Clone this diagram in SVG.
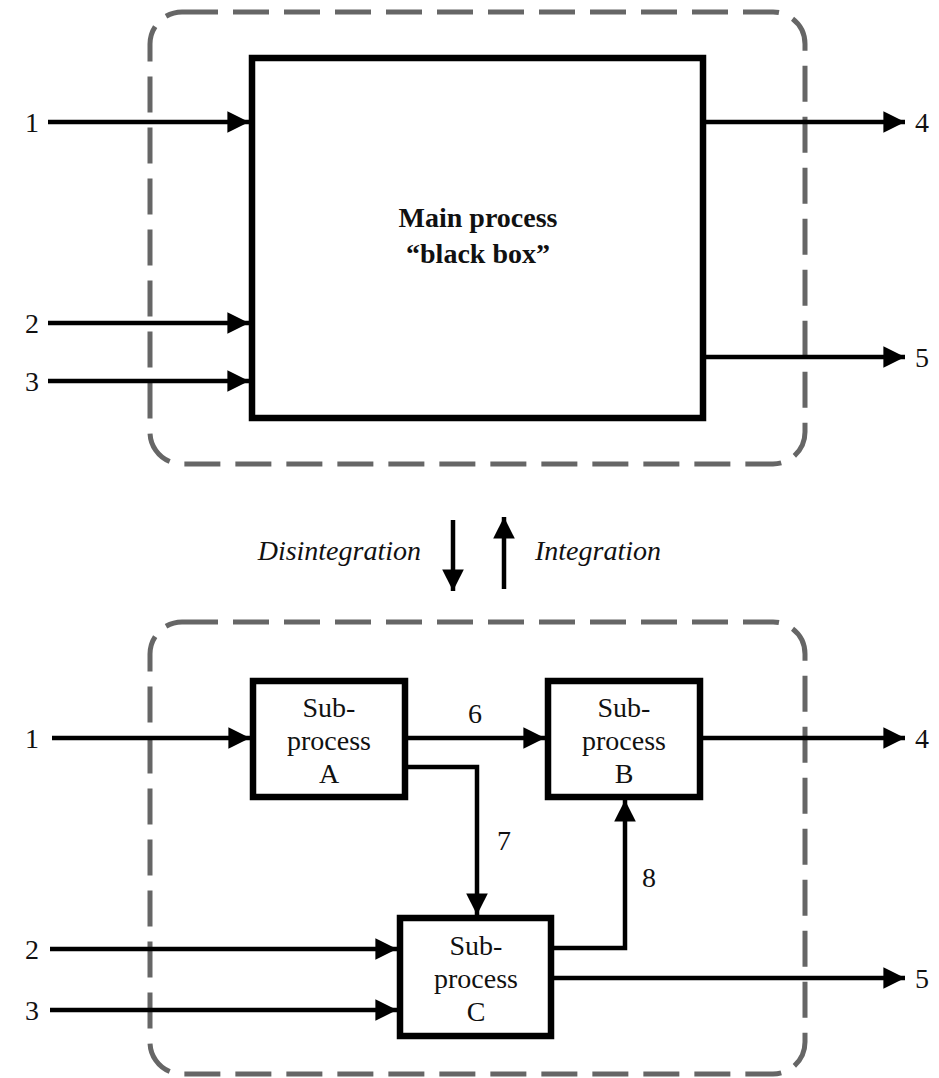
<svg xmlns="http://www.w3.org/2000/svg" width="939" height="1078" viewBox="0 0 939 1078">
<style>
.cont{fill:none;stroke:#666;stroke-width:5;stroke-dasharray:36 15}
.box{fill:#fff;stroke:#000;stroke-width:6.5}
.ar{fill:none;stroke:#000;stroke-width:4.5;marker-end:url(#ah)}
text{font-family:"Liberation Serif","DejaVu Serif",serif;font-size:28px;fill:#111}
.b{font-weight:bold}
.i{font-style:italic}
.m{text-anchor:middle}
</style>
<defs>
<marker id="ah" viewBox="0 0 10 10" refX="10" refY="5" markerWidth="5" markerHeight="4.8" orient="auto" markerUnits="strokeWidth">
<path d="M0,0L10,5L0,10Z" fill="#000"/>
</marker>
</defs>
<g id="top-container"><rect class="cont" x="150" y="12" width="655" height="452" rx="32"/></g>
<g id="bottom-container"><rect class="cont" x="150" y="622" width="655" height="452" rx="32"/></g>
<g id="main-process">
<rect class="box" x="252" y="58" width="451" height="360"/>
<text class="b m" x="478" y="227">Main process</text>
<text class="b m" x="478" y="263">“black box”</text>
</g>
<g id="sub-a">
<rect class="box" x="253" y="681" width="152" height="116"/>
<text class="m" x="329" y="717">Sub-</text>
<text class="m" x="329" y="750">process</text>
<text class="m" x="329" y="783">A</text>
</g>
<g id="sub-b">
<rect class="box" x="548" y="681" width="152" height="116"/>
<text class="m" x="624" y="717">Sub-</text>
<text class="m" x="624" y="750">process</text>
<text class="m" x="624" y="783">B</text>
</g>
<g id="sub-c">
<rect class="box" x="400" y="918" width="151" height="118"/>
<text class="m" x="476" y="955">Sub-</text>
<text class="m" x="476" y="988">process</text>
<text class="m" x="476" y="1021">C</text>
</g>
<g id="connectors">
<line class="ar" x1="48" y1="122" x2="249" y2="122"/>
<line class="ar" x1="48" y1="323" x2="249" y2="323"/>
<line class="ar" x1="48" y1="381" x2="249" y2="381"/>
<line class="ar" x1="706" y1="122" x2="905" y2="122"/>
<line class="ar" x1="706" y1="357" x2="905" y2="357"/>
<line class="ar" x1="453" y1="520" x2="453" y2="591"/>
<line class="ar" x1="504" y1="589" x2="504" y2="517"/>
<line class="ar" x1="52" y1="738" x2="250" y2="738"/>
<line class="ar" x1="408" y1="738" x2="545" y2="738"/>
<polyline class="ar" points="408,767 477,767 477,915"/>
<polyline class="ar" points="554,948 625,948 625,800"/>
<line class="ar" x1="703" y1="738" x2="905" y2="738"/>
<line class="ar" x1="50" y1="949" x2="397" y2="949"/>
<line class="ar" x1="50" y1="1010" x2="397" y2="1010"/>
<line class="ar" x1="554" y1="978" x2="905" y2="978"/>
</g>
<g id="labels">
<text x="25" y="132">1</text>
<text x="25" y="333">2</text>
<text x="25" y="391">3</text>
<text x="915" y="132">4</text>
<text x="915" y="367">5</text>
<text class="i" x="421" y="560" text-anchor="end">Disintegration</text>
<text class="i" x="535" y="560">Integration</text>
<text x="25" y="748">1</text>
<text x="915" y="748">4</text>
<text x="25" y="959">2</text>
<text x="25" y="1020">3</text>
<text x="915" y="988">5</text>
<text x="468" y="723">6</text>
<text x="497" y="850">7</text>
<text x="642" y="887">8</text>
</g>
</svg>
